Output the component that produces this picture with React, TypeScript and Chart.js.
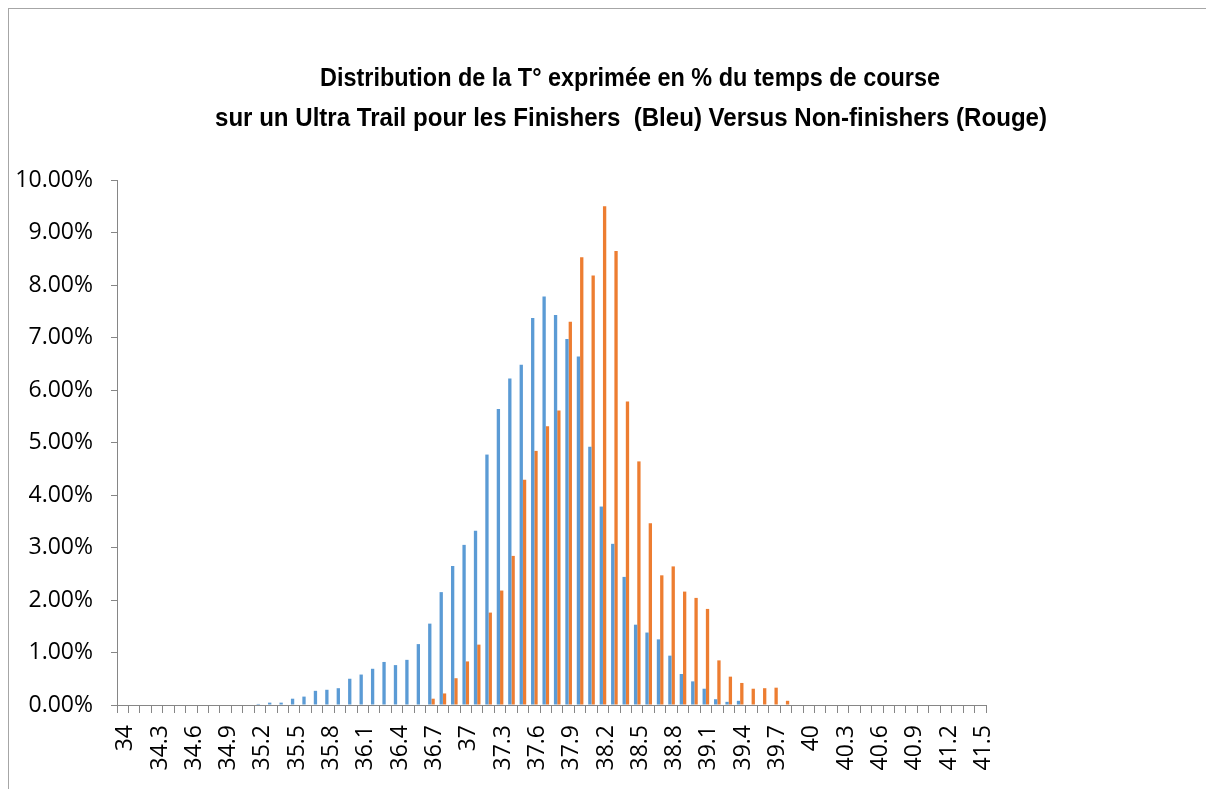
import React, { useEffect, useRef } from "react";
import { Chart, registerables } from "chart.js";

Chart.register(...registerables);

const TITLE_LINES = [
  "Distribution de la T° exprimée en % du temps de course",
  "sur un Ultra Trail pour les Finishers  (Bleu) Versus Non-finishers (Rouge)",
];

const categories = [
  "34", "34.1", "34.2", "34.3", "34.4", "34.5", "34.6", "34.7", "34.8", "34.9",
  "35", "35.1", "35.2", "35.3", "35.4", "35.5", "35.6", "35.7", "35.8", "35.9",
  "36", "36.1", "36.2", "36.3", "36.4", "36.5", "36.6", "36.7", "36.8", "36.9",
  "37", "37.1", "37.2", "37.3", "37.4", "37.5", "37.6", "37.7", "37.8", "37.9",
  "38", "38.1", "38.2", "38.3", "38.4", "38.5", "38.6", "38.7", "38.8", "38.9",
  "39", "39.1", "39.2", "39.3", "39.4", "39.5", "39.6", "39.7", "39.8", "39.9",
  "40", "40.1", "40.2", "40.3", "40.4", "40.5", "40.6", "40.7", "40.8", "40.9",
  "41", "41.1", "41.2", "41.3", "41.4", "41.5",
];

const shownTickLabels = [
  "34", "34.3", "34.6", "34.9", "35.2", "35.5", "35.8", "36.1", "36.4", "36.7",
  "37", "37.3", "37.6", "37.9", "38.2", "38.5", "38.8", "39.1", "39.4", "39.7",
  "40", "40.3", "40.6", "40.9", "41.2", "41.5",
];

// Finishers (blue), % of race time
const finishers = [
  0, 0, 0, 0, 0, 0, 0, 0, 0, 0,
  0.01, 0.01, 0.02, 0.045, 0.045, 0.12, 0.16, 0.27, 0.29, 0.32,
  0.5, 0.58, 0.69, 0.82, 0.76, 0.86, 1.16, 1.55, 2.15, 2.65,
  3.05, 3.32, 4.77, 5.64, 6.22, 6.48, 7.37, 7.78, 7.43, 6.97,
  6.64, 4.92, 3.78, 3.07, 2.44, 1.53, 1.38, 1.25, 0.94, 0.59,
  0.45, 0.31, 0.11, 0.06, 0.08, 0.01, 0, 0, 0, 0,
  0, 0, 0, 0, 0, 0, 0, 0, 0, 0,
  0, 0, 0, 0, 0, 0,
];

// Non-finishers (orange), % of race time
const nonFinishers = [
  0, 0, 0, 0, 0, 0, 0, 0, 0, 0,
  0, 0, 0, 0, 0, 0, 0, 0, 0, 0,
  0, 0, 0, 0, 0, 0, 0.01, 0.12, 0.22, 0.51,
  0.83, 1.15, 1.76, 2.18, 2.84, 4.29, 4.84, 5.31, 5.61, 7.3,
  8.53, 8.18, 9.5, 8.65, 5.78, 4.64, 3.46, 2.47, 2.64, 2.16,
  2.04, 1.83, 0.85, 0.54, 0.42, 0.31, 0.32, 0.33, 0.08, 0,
  0, 0, 0, 0, 0, 0, 0, 0, 0, 0,
  0, 0, 0, 0, 0, 0,
];

const AXIS_GRAY = "#868686";
const TICK_FONT = { family: "'Open Sans', 'Liberation Sans', sans-serif", size: 23 };

const titlePlugin = {
  id: "customTitle",
  afterDraw(chart: any) {
    const ctx = chart.ctx;
    ctx.save();
    ctx.fillStyle = "#000";
    ctx.font = "bold 25px 'Liberation Sans Narrow', 'Liberation Sans', sans-serif";
    ctx.textAlign = "center";
    ctx.textBaseline = "middle";
    ctx.fillText(TITLE_LINES[0], 621, 70, 620);
    ctx.fillText(TITLE_LINES[1], 622, 110, 832);
    ctx.restore();
  },
};

export default function App() {
  const canvasRef = useRef<HTMLCanvasElement | null>(null);

  useEffect(() => {
    document.body.style.overflow = "hidden";
    if (!canvasRef.current) return;
    const chart = new Chart(canvasRef.current, {
      type: "bar",
      data: {
        labels: categories,
        datasets: [
          {
            label: "Finishers",
            data: finishers,
            backgroundColor: "#5B9BD5",
            categoryPercentage: 0.58,
            barPercentage: 1.0,
          },
          {
            label: "Non-finishers",
            data: nonFinishers,
            backgroundColor: "#ED7D31",
            categoryPercentage: 0.58,
            barPercentage: 1.0,
          },
        ],
      },
      options: {
        animation: false,
        responsive: true,
        maintainAspectRatio: false,
        layout: { padding: { top: 171, right: 228, left: 0, bottom: 0 } },
        plugins: {
          legend: { display: false },
          title: { display: false },
          tooltip: { enabled: false },
        },
        scales: {
          x: {
            type: "category",
            offset: true,
            grid: {
              offset: true,
              drawOnChartArea: false,
              drawTicks: true,
              tickLength: 8,
              color: AXIS_GRAY,
            },
            border: { color: AXIS_GRAY },
            ticks: {
              autoSkip: false,
              minRotation: 90,
              maxRotation: 90,
              padding: 12,
              labelOffset: 3,
              color: "#000",
              font: TICK_FONT,
              callback: function (this: any, v: any) {
                const lab = this.getLabelForValue(v);
                return shownTickLabels.includes(lab) ? lab : "";
              },
            },
            afterFit: (s: any) => {
              s.height = 84;
            },
          },
          y: {
            min: 0,
            max: 10,
            grid: {
              drawOnChartArea: false,
              drawTicks: true,
              tickLength: 6,
              color: AXIS_GRAY,
            },
            border: { color: AXIS_GRAY },
            ticks: {
              stepSize: 1,
              padding: 18,
              color: "#000",
              font: TICK_FONT,
              callback: (v: any) => Number(v).toFixed(2) + "%",
            },
            afterFit: (s: any) => {
              s.width = 108;
            },
          },
        },
      },
      plugins: [titlePlugin],
    });
    return () => chart.destroy();
  }, []);

  return (
    <div
      style={{
        width: 1206,
        height: 781,
        borderLeft: "1px solid #a6a6a6",
        borderTop: "1px solid #a6a6a6",
        boxSizing: "border-box",
        position: "relative",
      }}
    >
      <div style={{ width: 1205, height: 780, position: "relative" }}>
        <canvas ref={canvasRef} />
      </div>
    </div>
  );
}
